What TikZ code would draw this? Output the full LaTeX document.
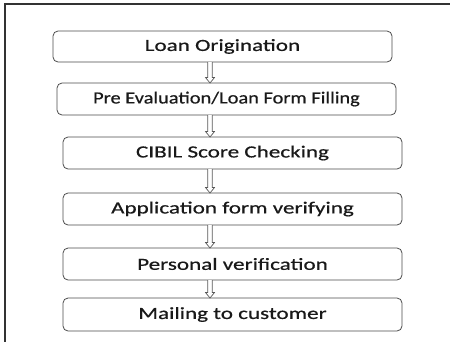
\documentclass[tikz,border=0pt]{standalone}
\usepackage{fontspec}
\setmainfont{Carlito}[FakeStretch=1.36, FakeBold=0.6]
\newfontfamily\narrowfont{Carlito}[FakeStretch=1.2, FakeBold=0.6]
\usetikzlibrary{calc}
\begin{document}
\begin{tikzpicture}[x=1pt,y=-1pt,
  stepbox/.style={draw=black!70, line width=0.8pt, rounded corners=5pt, fill=white},
  label/.style={font=\fontsize{17}{20}\selectfont, text=black!90},
  flow/.style={draw=black!65, line width=0.7pt, fill=white, line join=miter}]
  \useasboundingbox (0,0) rectangle (450,341);
  % frame (right and bottom edges fall outside the page)
  \draw[black!80, line width=1.3pt] (5,360) -- (5,4) -- (460,4);
  % process steps
  \draw[stepbox] (53,31) rectangle (392,62)   coordinate[pos=.5] (c1);
  \draw[stepbox] (57,83) rectangle (396,115)  coordinate[pos=.5] (c2);
  \draw[stepbox] (63,137) rectangle (402,169) coordinate[pos=.5] (c3);
  \draw[stepbox] (63,193) rectangle (402,225) coordinate[pos=.5] (c4);
  \draw[stepbox] (63,248) rectangle (402,280) coordinate[pos=.5] (c5);
  \draw[stepbox] (63,298) rectangle (402,331) coordinate[pos=.5] (c6);
  \node[label] (t1) at (c1) {Loan Origination};
  \node[label, font=\fontsize{17}{20}\narrowfont] (t2) at (c2) {Pre Evaluation/Loan Form Filling};
  \node[label] (t3) at (c3) {CIBIL Score Checking};
  \node[label] (t4) at (c4) {Application form verifying};
  \node[label] (t5) at (c5) {Personal verification};
  \node[label] (t6) at (c6) {Mailing to customer};
  % hollow arrows between steps
  \foreach \a/\ya/\yb in {1/62/83, 2/115/137, 3/169/193, 4/225/248, 5/280/298} {
    \coordinate (s\a) at (210,\ya);
    \coordinate (e\a) at (210,\yb);
    \draw[flow] let \p1=(s\a), \p2=(e\a) in
      (\x1-2.2,\y1) -- (\x1-2.2,\y2+5.5) -- (\x1-4.5,\y2+5.5) -- (\x1,\y2)
      -- (\x1+4.5,\y2+5.5) -- (\x1+2.2,\y2+5.5) -- (\x1+2.2,\y1);
  }
\end{tikzpicture}
\end{document}
